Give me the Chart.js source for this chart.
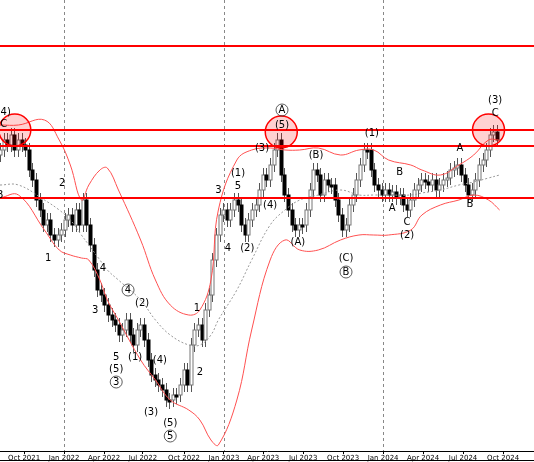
<!DOCTYPE html>
<html>
<head>
<meta charset="utf-8">
<script src="https://cdn.jsdelivr.net/npm/chart.js@4.4.1/dist/chart.umd.min.js"></script>
<style>
  html, body { margin: 0; padding: 0; background: #fff; }
  #wrap { width: 534px; height: 462px; }
</style>
</head>
<body>
<div id="wrap"><canvas id="myChart"></canvas></div>
<script>
// weekly closes (axis is reversed: smaller = higher on screen)
var closes = [150,140,145,135,150,140,145,150,170,
  180,200,210,225,220,235, 240,235,230,220,215,225, 210,225,200,225,
  245,270,290,295,305,315, 320,325,335,330,320,335, 345,330,325,340,360,
  375,380,385,390,400,400,395, 395,385,370,385,345, 330,325,340,310,295,
  260,235,215,210,220, 210,200,205,225,235, 220,210,205,190,175,
  180,165,150,140,175, 195,210,225,230,225, 225,210,190,170,175,
  195,180,185,185,200, 215,230,225,205,195, 180,165,150,150,170,
  185,190,195,190,195, 192,198,195,205,210, 200,190,185,180,182,
  185,180,190,185,180, 178,170,168,165,175, 185,195,190,180,165,
  160,150,135,132,140];

// bollinger bands, sampled by week
var bandWeeks = [0,5,12,16,19,22,24,27,29,32,38,42,46,51,54,57,59,64,68,73,77,81,86,92,97,101,105,111,114,119,124,128,132,135];
var upperBand = [125,125,120,140,165,200,185,170,168,190,240,280,305,315,310,280,210,160,150,148,150,150,148,155,150,150,160,165,170,175,165,155,140,140];
var lowerBand = [198,195,230,250,255,258,260,280,300,320,360,380,400,410,420,440,445,400,330,260,240,250,250,240,235,235,235,230,215,205,200,195,200,210];
var middleBand = [185,185,200,210,220,235,245,260,270,280,300,320,335,345,345,335,320,290,260,225,210,200,195,190,195,195,195,195,193,190,185,182,178,175];

var levels = [46,130,146,198];
var circles = [[4,130],[76,132],[132,130]];

var tickWeeks = [6.7,17.8,28.9,39.7,51.1,62.2,73.1,84.2,95.3,106.4,117.5,128.6,139.7];
var tickNames = ['Oct 2021','Jan 2022','Apr 2022','Jul 2022','Oct 2022','Jan 2023','Apr 2023','Jul 2023','Oct 2023','Jan 2024','Apr 2024','Jul 2024','Oct 2024'];
var gridWeeks = [17.8,62.2,106.4];

// wave labels: week, level, text, circled
var waves = [
  [1,112,'(4)',0],[1,124,'C',0],[0,195,'B',0],[16.8,183,'2',0],[13,258,'1',0],
  [59,190,'3',0],[64.3,173,'(1)',0],[64.3,186,'5',0],[61.6,248,'4',0],[66.8,248,'(2)',0],
  [70.8,148,'(3)',0],[73,205,'(4)',0],[76.2,110,'A',1],[76.2,125,'(5)',0],
  [85.4,155,'(B)',0],[80.5,242,'(A)',0],[100.5,133,'(1)',0],[93.5,258,'(C)',0],[93.5,272,'B',1],
  [108,172,'B',0],[106,208,'A',0],[110,222,'C',0],[110,235,'(2)',0],
  [124.3,148,'A',0],[127,204,'B',0],[133.8,100,'(3)',0],[133.8,113,'C',0],
  [54,372,'2',0],[53.2,308,'1',0],[27.8,268,'4',0],[25.7,310,'3',0],[34.6,290,'4',1],
  [38.4,303,'(2)',0],[43.2,360,'(4)',0],[31.4,357,'5',0],[31.4,369,'(5)',0],[31.4,382,'3',1],
  [36.5,357,'(1)',0],[40.8,412,'(3)',0],[46,423,'(5)',0],[46,436,'5',1]
];

// bands/labels above were read on a 3.7px grid, candles sit on 3.6px
var K = 3.7 / 3.6;

var opens = closes.map(function(c, i) { return i === 0 ? c + 5 : closes[i - 1]; });
function band(arr) {
  return arr.map(function(v, k) { return {x: bandWeeks[k] * K, y: v}; });
}

var overlay = {
  id: 'overlay',
  beforeDatasetsDraw: function(chart) {
    var c = chart.ctx, xs = chart.scales.x, ys = chart.scales.y, a = chart.chartArea;
    c.save();
    c.setLineDash([3, 3]);
    c.strokeStyle = '#888';
    c.lineWidth = 1;
    gridWeeks.forEach(function(w) {
      var px = Math.round(xs.getPixelForValue(w)) + 0.5;
      c.beginPath(); c.moveTo(px, a.top); c.lineTo(px, a.bottom); c.stroke();
    });
    c.setLineDash([]);
    // candles
    for (var i = 0; i < closes.length; i++) {
      var top = Math.min(opens[i], closes[i]), bot = Math.max(opens[i], closes[i]);
      var px = Math.round(xs.getPixelForValue(i)) + 0.5;
      var y1 = ys.getPixelForValue(top), y2 = ys.getPixelForValue(bot);
      if (y2 - y1 < 2) { y2 = y1 + 2; }
      c.strokeStyle = '#555';
      c.beginPath(); c.moveTo(px, y1 - 7); c.lineTo(px, y2 + 7); c.stroke();
      var up = closes[i] < opens[i];
      c.fillStyle = up ? '#ffffff' : '#000000';
      c.fillRect(px - 1.5, y1, 3, y2 - y1);
      c.strokeStyle = up ? '#777' : '#000';
      c.strokeRect(px - 1.5, y1, 3, y2 - y1);
    }
    c.restore();
  },
  afterDatasetsDraw: function(chart) {
    var c = chart.ctx, xs = chart.scales.x, ys = chart.scales.y, a = chart.chartArea;
    c.save();
    c.strokeStyle = '#ff0000';
    c.lineWidth = 2;
    levels.forEach(function(l) {
      var py = ys.getPixelForValue(l);
      c.beginPath(); c.moveTo(a.left, py); c.lineTo(a.right, py); c.stroke();
    });
    circles.forEach(function(p) {
      c.beginPath();
      c.arc(xs.getPixelForValue(p[0] * K), ys.getPixelForValue(p[1]), 16, 0, Math.PI * 2);
      c.fillStyle = 'rgba(255,0,0,0.18)';
      c.fill();
      c.lineWidth = 1.5;
      c.stroke();
    });
    c.font = '10px "DejaVu Sans"';
    c.textAlign = 'center';
    c.textBaseline = 'middle';
    waves.forEach(function(w) {
      var px = xs.getPixelForValue(w[0] * K), py = ys.getPixelForValue(w[1]);
      c.fillStyle = '#000';
      c.fillText(w[2], px, py);
      if (w[3]) {
        c.beginPath(); c.arc(px, py, 6, 0, Math.PI * 2);
        c.strokeStyle = '#333'; c.lineWidth = 0.8; c.stroke();
      }
    });
    // bottom frame line
    c.strokeStyle = '#000'; c.lineWidth = 1;
    c.beginPath(); c.moveTo(0, 460.5); c.lineTo(534, 460.5); c.stroke();
    c.restore();
  }
};

var ctx = document.getElementById('myChart').getContext('2d');
var myChart = new Chart(ctx, {
  type: 'line',
  data: {
    datasets: [
      { data: band(upperBand), borderColor: '#ff5050', borderWidth: 1, pointRadius: 0, tension: 0.4 },
      { data: band(lowerBand), borderColor: '#ff5050', borderWidth: 1, pointRadius: 0, tension: 0.4 },
      { data: band(middleBand), borderColor: '#999', borderDash: [2, 2], borderWidth: 1, pointRadius: 0, tension: 0.4 }
    ]
  },
  options: {
    responsive: true,
    maintainAspectRatio: false,
    animation: false,
    layout: { padding: 0 },
    plugins: { legend: { display: false }, tooltip: { enabled: false } },
    scales: {
      x: {
        type: 'linear', min: 0, max: 148.3, offset: false,
        grid: { display: true, drawOnChartArea: false, drawTicks: true, tickLength: 3, color: '#000' },
        border: { color: '#000' },
        afterBuildTicks: function(axis) { axis.ticks = tickWeeks.map(function(v) { return {value: v}; }); },
        afterFit: function(axis) { axis.height = 11; },
        ticks: {
          autoSkip: false, maxRotation: 0, padding: 0,
          font: { size: 7, family: 'DejaVu Sans' }, color: '#000',
          callback: function(v, idx) { return tickNames[idx]; }
        }
      },
      y: { min: 0, max: 451, reverse: true, display: false }
    }
  },
  plugins: [overlay]
});
</script>
</body>
</html>
